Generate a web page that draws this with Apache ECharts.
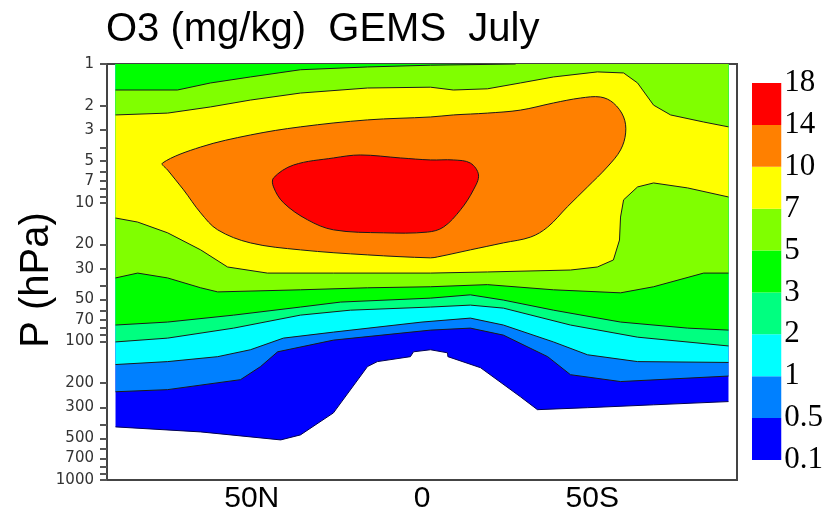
<!DOCTYPE html>
<html><head><meta charset="utf-8">
<script src="https://cdn.jsdelivr.net/npm/echarts@6/dist/echarts.min.js"></script>
<style>html,body{margin:0;padding:0;background:#fff}#c{width:826px;height:515px}</style>
</head><body><div id="c"></div>
<script>
// ---- legend / axis data ----
const levelLabels = ['18','14','10','7','5','3','2','1','0.5','0.1'];
const levelColors = ['#ff0000','#ff8000','#ffff00','#80ff00','#00ff00','#00ff80','#00ffff','#0080ff','#0000ff'];
const xTickValues = [50, 0, -50];
const xTickLabels = ['50N', '0', '50S'];
const pLabelValues = [1,2,3,5,7,10,20,30,50,70,100,200,300,500,700,1000];
const pTickValues = [1,2,3,4,5,6,7,8,9,10,20,30,40,50,60,70,80,90,100,200,300,400,500,600,700,800,900,1000];

// ---- contour lines, [latitude (N+), pressure hPa] ----
const line01 = [[90,414],[65,450],[41.5,514],[35.7,473],[26,328],[16,152],[13.1,140],[3.4,129],[2.5,119],[-2.5,115],[-7.5,121],[-7.6,129],[-17.2,155],[-28.9,251],[-33.9,311],[-48.6,301],[-68,287],[-90,272]];
const line05 = [[90,231],[74.7,223],[53.3,189],[47.4,152],[42.4,119],[26,98],[-2.5,83],[-14.2,80.3],[-23.9,90.2],[-36.9,129],[-43.6,174],[-58.3,195],[-90,178]];
const line1  = [[90,147],[74.7,140],[60,129],[50.4,115],[40.7,94.8],[26,85.8],[0,72.6],[-14.2,68],[-23.9,76.3],[-38.6,101],[-48.6,125],[-63.3,140],[-90,142]];
const line2  = [[90,101],[74.7,94.8],[55.3,80.3],[35.7,64.7],[21,59.6],[-2.5,56.6],[-14.2,54.8],[-23.9,57.6],[-43.6,76.3],[-63.3,93.3],[-90,108]];
const line3  = [[90,76.3],[74.7,72.6],[55.3,64.7],[35.7,56.6],[23.9,52.1],[-2.5,48.8],[-14.2,46.2],[-23.9,50.4],[-38.6,59.6],[-58.3,72.6],[-78,80.3],[-90,83]];
const line5lo = [[90,34.9],[83.5,32.2],[74.7,34.9],[65,41.1],[60,44],[35.7,42.5],[16,41.1],[-2.5,40.4],[-19.2,39],[-38.6,42.5],[-58.3,44.7],[-68,40.4],[-82.7,32.2],[-90,32.2]];
const line5hi = [[90,1.54],[71.8,1.54],[62.1,1.37],[50.4,1.24],[35.7,1.1],[16,1.05],[-2.5,1.02],[-27.5,1.0]];
const line7hi = [[90,2.33],[74.7,2.26],[62.1,2.04],[50.4,1.82],[35.7,1.62],[16,1.49],[-2.5,1.47],[-9.2,1.54],[-19.2,1.51],[-28.9,1.37],[-38.6,1.24],[-51.5,1.14],[-59.2,1.16],[-63.3,1.37],[-68,1.98],[-73,2.33],[-82.7,2.62],[-90,2.84]];
const line7lo = [[90,12.9],[83.5,13.8],[74.7,16.5],[65,21.9],[57.1,29.1],[45.4,32.2],[26,32.2],[-2.5,32.2],[-19.2,31.6],[-43.6,30.6],[-51.5,29.1],[-56.2,25.9],[-58,18.6],[-58.3,12.7],[-59.2,9.54],[-63.3,7.7],[-68,7.21],[-78,7.83],[-90,9.1]];
const line10 = [[76.2,5.18],[65,3.97],[50.4,3.25],[35.7,2.84],[16,2.53],[-2.5,2.41],[-9.2,2.33],[-19.2,2.26],[-28.9,2.15],[-38.6,1.91],[-46.5,1.76],[-52.4,1.73],[-56.2,1.91],[-59.2,2.41],[-59.8,3.14],[-58.3,4.17],[-54.4,5.53],[-48.6,7.7],[-42.7,10.7],[-36.9,15],[-31.9,17.7],[-23.9,19.5],[-14.2,21.9],[-4.6,24.6],[-2.5,25],[16,23.8],[35.7,21.9],[50.4,19.5],[60,15.7],[65,11.85],[70,8.09],[74.7,5.81]];
const line14 = [[43.6,6.63],[37.7,5.35],[26,4.76],[18.1,4.53],[6.3,4.76],[-2.5,4.92],[-9.2,4.92],[-14.2,5.18],[-16.6,6.31],[-15.1,8.09],[-11.3,11.27],[-6.3,15],[-1.6,16.3],[11.3,16.5],[26,15.7],[33.6,13.3],[40.7,10],[43.6,7.7]];
const topEdge = [[-90,1],[90,1]];

// ---- regions built from the lines (painted bottom-up) ----
const rev = a => a.slice().reverse();
const regions = [
  {color: levelColors[8], fill: line01.concat(topEdge), lines: [line01], edge: '#000050'},
  {color: levelColors[7], fill: line05.concat(topEdge), lines: [line05]},
  {color: levelColors[6], fill: line1.concat(topEdge), lines: [line1]},
  {color: levelColors[5], fill: line2.concat(topEdge), lines: [line2]},
  {color: levelColors[4], fill: line3.concat(topEdge), lines: [line3]},
  {color: levelColors[3], fill: line5hi.concat([[-90,1]], rev(line5lo)), lines: [line5hi, line5lo]},
  {color: levelColors[2], fill: line7hi.concat(rev(line7lo)), lines: [line7hi, line7lo]},
  {color: levelColors[1], fill: line10, blob: true},
  {color: levelColors[0], fill: line14, blob: true}
];

const chart = echarts.init(document.getElementById('c'), null, {renderer: 'canvas'});

function renderItem(params, api) {
  const r = regions[api.value(2)];
  const pts = r.fill.map(p => api.coord(p));
  const children = [];
  if (r.blob) {
    children.push({type: 'polygon', shape: {points: pts, smooth: 0.35}, style: {fill: r.color, stroke: '#1a1a1a', lineWidth: 1}});
  } else {
    children.push({type: 'polygon', shape: {points: pts}, style: {fill: r.color, stroke: null}});
    r.lines.forEach(l => {
      children.push({type: 'polyline', shape: {points: l.map(p => api.coord(p))}, style: {fill: null, stroke: r.edge || '#1a1a1a', lineWidth: 1}});
    });
  }
  return {type: 'group', children};
}

const cbSeries = [];
for (let i = 0; i < 9; i++) {
  cbSeries.push({type: 'bar', xAxisIndex: 1, yAxisIndex: 1, stack: 'cb', data: [1], barWidth: '100%', silent: true,
    itemStyle: {color: levelColors[8 - i]}});
}

chart.setOption({
  animation: false,
  title: {text: 'O3 (mg/kg)  GEMS  July', left: 101, top: 5,
    textStyle: {fontFamily: 'Liberation Sans', fontSize: 40, fontWeight: 'normal', color: '#000'}},
  grid: [
    {left: 107, right: 89, top: 64, bottom: 35, show: true, borderColor: '#444', borderWidth: 2, backgroundColor: 'transparent'},
    {left: 752, width: 30, top: 83, height: 377}
  ],
  xAxis: [
    {type: 'value', min: -92.5, max: 92.5, inverse: true, splitLine: {show: false},
      axisLine: {show: true, onZero: false, lineStyle: {color: '#444', width: 2}},
      axisTick: {show: false},
      axisLabel: {customValues: xTickValues, formatter: v => xTickLabels[xTickValues.indexOf(v)],
        fontFamily: 'Liberation Sans', fontSize: 30, color: '#000', margin: 4}},
    {type: 'category', gridIndex: 1, data: ['c'], show: false}
  ],
  yAxis: [
    {type: 'log', logBase: 10, min: 1, max: 1000, inverse: true, splitLine: {show: false},
      axisLine: {show: true, onZero: false, lineStyle: {color: '#444', width: 2}},
      axisTick: {show: true, inside: false, length: 7, customValues: pTickValues, lineStyle: {color: '#555', width: 2}},
      minorTick: {show: false},
      axisLabel: {customValues: pLabelValues, formatter: v => String(Math.round(v)),
        fontFamily: 'DejaVu Sans', fontSize: 15, color: '#333', margin: 13},
      name: 'P (hPa)', nameLocation: 'middle', nameGap: 50, nameRotate: 90, nameMoveOverlap: false,
      nameTextStyle: {fontFamily: 'Liberation Sans', fontSize: 40, color: '#000', padding: [0, 16, 0, 0]}},
    {type: 'value', gridIndex: 1, min: 0, max: 9, interval: 1, position: 'right',
      splitLine: {show: false}, axisLine: {show: false}, axisTick: {show: false},
      axisLabel: {formatter: v => levelLabels[9 - v], fontFamily: 'Liberation Serif', fontSize: 31, color: '#000', margin: 3}}
  ],
  series: [
    {type: 'custom', xAxisIndex: 0, yAxisIndex: 0, renderItem, clip: true, silent: true,
      encode: {x: 0, y: 1}, data: regions.map((r, i) => [0, 10, i])}
  ].concat(cbSeries)
});
</script>
</body></html>
